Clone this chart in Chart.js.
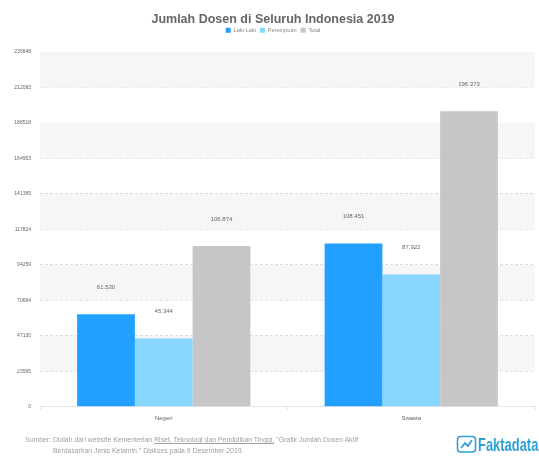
<!DOCTYPE html>
<html>
<head>
<meta charset="utf-8">
<title>Jumlah Dosen di Seluruh Indonesia 2019</title>
<script src="https://cdn.jsdelivr.net/npm/chart.js@4/dist/chart.umd.min.js"></script>
<style>
  html, body { margin: 0; padding: 0; background: #fff; }
  #wrap { position: relative; width: 539px; height: 457px; overflow: hidden; font-family: "Liberation Sans", Arial, sans-serif; }
  #wrap canvas { position: absolute; left: 0; top: 0; }
  #source { position: absolute; left: 25px; top: 434px; font-size: 6.9px; line-height: 11px; color: #a0a0a0; white-space: nowrap; }
  #source .label { display: inline-block; width: 28px; }
  #source .indent { display: inline-block; width: 28px; }
  #source u { text-decoration: underline; }
  #logo { position: absolute; left: 456px; top: 435px; width: 83px; height: 22px; }
  #logo svg { position: absolute; left: 0; top: 0; }
  #logo span { position: absolute; left: 22px; top: -1px; font: bold 19px/21px "Liberation Sans", sans-serif; color: #2f9fd8; transform: scaleX(0.68); transform-origin: left top; white-space: nowrap; }
</style>
</head>
<body>
<div id="wrap">
  <canvas id="dosenChart" width="539" height="457"></canvas>
  <div id="source">
    <span class="label">Sumber:</span>Diolah dari website Kementerian <u>Riset, Teknologi dan Pendidikan Tinggi,</u> "Grafik Jumlah Dosen Aktif<br>
    <span class="indent"></span>Berdasarkan Jenis Kelamin." Diakses pada 9 Desember 2019.
  </div>
  <div id="logo">
    <svg width="21" height="19" viewBox="0 0 21 19">
      <rect x="1.5" y="1.5" width="18" height="15.5" rx="3" fill="none" stroke="#2f9fd8" stroke-width="1.6"/>
      <polyline points="5,13 9,8 12,11 16,5" fill="none" stroke="#2f9fd8" stroke-width="1.8"/>
    </svg>
    <span>Faktadata</span>
  </div>
</div>
<script>
const categories = ['Negeri', 'Swasta'];
const lakiLaki = [61530, 108451];
const perempuan = [45344, 87922];
const total = [106874, 196373];
const yTicks = [0, 23565, 47130, 70694, 94259, 117824, 141389, 164953, 188518, 212083, 235648];

const fontName = '"Liberation Sans", Arial, sans-serif';

// alternating grey bands behind the bars, every second tick interval from the top
const bandPlugin = {
  id: 'bands',
  beforeDatasetsDraw(chart) {
    const { ctx, chartArea, scales } = chart;
    ctx.save();
    ctx.fillStyle = '#f6f6f8';
    for (let i = yTicks.length - 1; i > 0; i -= 2) {
      const top = scales.y.getPixelForValue(yTicks[i]);
      const bottom = scales.y.getPixelForValue(yTicks[i - 1]);
      ctx.fillRect(chartArea.left, top, chartArea.right - chartArea.left, bottom - top);
    }
    ctx.restore();
  }
};

// value text floating above each bar, dots as thousands separator
const valueLabelPlugin = {
  id: 'valueLabels',
  afterDatasetsDraw(chart) {
    const { ctx } = chart;
    ctx.save();
    ctx.font = '6px ' + fontName;
    ctx.fillStyle = '#666';
    ctx.textAlign = 'center';
    ctx.textBaseline = 'middle';
    chart.data.datasets.forEach((ds, i) => {
      chart.getDatasetMeta(i).data.forEach((bar, j) => {
        const text = String(ds.data[j]).replace(/\B(?=(\d{3})+$)/g, '.');
        ctx.fillText(text, bar.x, bar.y - 27);
      });
    });
    ctx.restore();
  }
};

// extra gap between the legend and the plot
const legendGapPlugin = {
  id: 'legendGap',
  beforeInit(chart) {
    const fit = chart.legend.fit;
    chart.legend.fit = function () {
      fit.call(this);
      this.height += 9;
    };
  }
};

new Chart(document.getElementById('dosenChart'), {
  type: 'bar',
  data: {
    labels: categories,
    datasets: [
      { label: 'Laki-Laki', data: lakiLaki, backgroundColor: '#22a0ff' },
      { label: 'Perempuan', data: perempuan, backgroundColor: '#88d7ff' },
      { label: 'Total', data: total, backgroundColor: '#c6c6c6' }
    ]
  },
  options: {
    responsive: false,
    animation: false,
    layout: { padding: { top: 12, right: 4, bottom: 30, left: 11 } },
    datasets: { bar: { categoryPercentage: 0.7, barPercentage: 1 } },
    plugins: {
      title: {
        display: true,
        text: 'Jumlah Dosen di Seluruh Indonesia 2019',
        color: '#666',
        font: { family: fontName, size: 12.5, weight: 'bold' },
        padding: { top: 0, bottom: -3.5 }
      },
      legend: {
        display: true,
        labels: {
          boxWidth: 5,
          boxHeight: 5,
          padding: 4,
          color: '#888',
          font: { family: fontName, size: 5.6 }
        }
      },
      tooltip: { enabled: false }
    },
    scales: {
      x: {
        grid: { display: true, drawOnChartArea: false, color: '#e4e4e4', tickLength: 3 },
        border: { color: '#e4e4e4' },
        ticks: { color: '#666', font: { family: fontName, size: 6 }, padding: 5 }
      },
      y: {
        min: 0,
        max: 235648,
        afterBuildTicks(axis) {
          axis.ticks = yTicks.map(v => ({ value: v }));
        },
        afterFit(axis) {
          axis.width = 29;
        },
        grid: { color: '#dadada', drawTicks: false },
        border: { display: false, dash: [3, 2] },
        ticks: {
          color: '#666',
          font: { family: fontName, size: 5 },
          padding: 9,
          autoSkip: false,
          callback: v => String(v)
        }
      }
    }
  },
  plugins: [bandPlugin, valueLabelPlugin, legendGapPlugin]
});
</script>
</body>
</html>
